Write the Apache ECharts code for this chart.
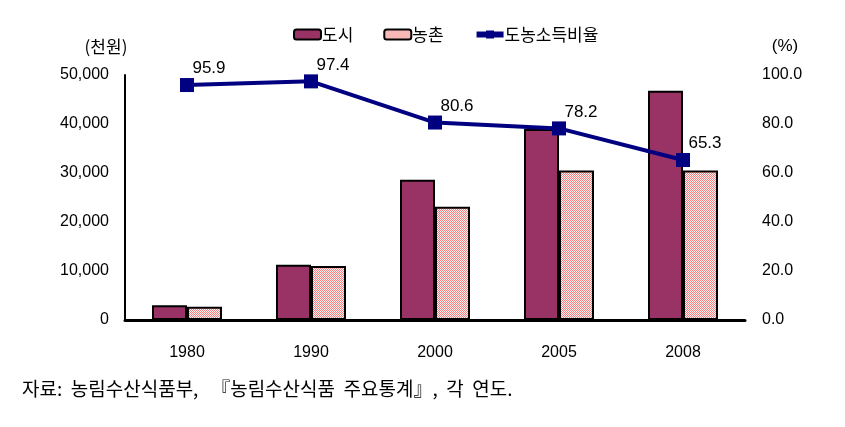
<!DOCTYPE html>
<html>
<head>
<meta charset="utf-8">
<script src="https://cdn.jsdelivr.net/npm/echarts@6/dist/echarts.min.js"></script>
<style>
    html, body { margin: 0; padding: 0; background: #fff; }
    #chart { width: 845px; height: 427px; }
</style>
</head>
<body>
<div id="chart"></div>
<script>
// 연도별 도시/농촌 가구소득 (천원) 및 도농소득비율 (%)
const years = ['1980', '1990', '2000', '2005', '2008'];
const cityIncome = [3000, 11300, 28600, 39000, 46800];
const farmIncome = [2700, 11000, 23100, 30500, 30500];
const ratio = [95.9, 97.4, 80.6, 78.2, 65.3];

const numFont = "'Liberation Sans', Arial, sans-serif";
const krFont = "'Noto Sans CJK KR', sans-serif";

// 농촌 막대용 점무늬 패턴
function makePattern() {
    const c = document.createElement('canvas');
    c.width = 2; c.height = 2;
    const ctx = c.getContext('2d');
    ctx.fillStyle = '#fff2f2';
    ctx.fillRect(0, 0, 2, 2);
    ctx.fillStyle = '#f47f7f';
    ctx.fillRect(0, 0, 1, 1);
    ctx.fillRect(1, 1, 1, 1);
    return c;
}

const chart = echarts.init(document.getElementById('chart'));
const option = {
    animation: false,
    legend: {
        top: 21,
        left: 288,
        itemWidth: 27,
        itemHeight: 10,
        itemGap: 30,
        textStyle: { fontFamily: krFont, fontSize: 17, color: '#000', padding: [0, 0, 0, -4] },
        data: [
            '도시',
            '농촌',
            { name: '도농소득비율', lineStyle: { width: 6 } }
        ]
    },
    grid: { left: 125, right: 100, top: 75, bottom: 107 },
    xAxis: {
        type: 'category',
        data: years,
        axisLine: { lineStyle: { color: '#000', width: 3 } },
        axisTick: { show: false },
        axisLabel: { margin: 25, fontFamily: numFont, fontSize: 16, color: '#000' }
    },
    yAxis: [
        {
            type: 'value',
            min: 0, max: 50000, interval: 10000,
            name: '(천원)',
            nameLocation: 'end',
            nameGap: 20,
            nameTextStyle: { fontFamily: krFont, fontSize: 17, color: '#000', padding: [0, 38, 0, 0] },
            axisLine: { show: true, lineStyle: { color: '#000', width: 2 } },
            axisTick: { show: false },
            splitLine: { show: false },
            axisLabel: {
                margin: 16, fontFamily: numFont, fontSize: 16, color: '#000',
                formatter: v => v.toLocaleString('en-US')
            }
        },
        {
            type: 'value',
            min: 0, max: 100, interval: 20,
            name: '(%)',
            nameLocation: 'end',
            nameGap: 20,
            nameTextStyle: { fontFamily: numFont, fontSize: 17, color: '#000', padding: [0, 0, 0, 80] },
            axisLine: { show: false },
            axisTick: { show: false },
            splitLine: { show: false },
            axisLabel: {
                margin: 17, fontFamily: numFont, fontSize: 16, color: '#000',
                formatter: v => v.toFixed(1)
            }
        }
    ],
    series: [
        {
            name: '도시',
            type: 'bar',
            data: cityIncome,
            barWidth: 35,
            barGap: '0%',
            itemStyle: { color: '#993366', borderColor: '#000', borderWidth: 2 }
        },
        {
            name: '농촌',
            type: 'bar',
            data: farmIncome,
            barWidth: 35,
            itemStyle: {
                color: { image: makePattern(), repeat: 'repeat' },
                borderColor: '#000', borderWidth: 2
            }
        },
        {
            name: '도농소득비율',
            type: 'line',
            yAxisIndex: 1,
            data: ratio,
            z: 10,
            symbol: 'rect',
            symbolSize: 14,
            lineStyle: { color: '#000080', width: 4 },
            itemStyle: { color: '#000080' },
            label: {
                show: true,
                position: 'top',
                offset: [22, 4],
                fontFamily: numFont,
                fontSize: 17,
                color: '#000',
                formatter: p => p.value.toFixed(1)
            }
        }
    ],
    graphic: [
        {
            type: 'text',
            left: 22,
            top: 379,
            style: {
                text: '자료:  농림수산식품부,   『농림수산식품  주요통계』,  각  연도.',
                fontFamily: krFont,
                fontSize: 19,
                fill: '#000'
            }
        }
    ]
};
chart.setOption(option);
</script>
</body>
</html>
